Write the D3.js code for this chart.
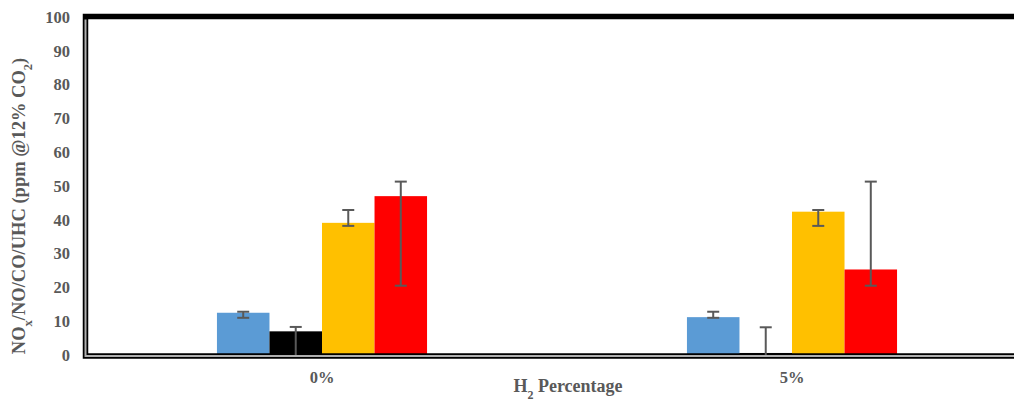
<!DOCTYPE html>
<html>
<head>
<meta charset="utf-8">
<script src="https://cdn.jsdelivr.net/npm/d3@7"></script>
<style>
  html, body { margin: 0; padding: 0; background: #fff; overflow: hidden; }
  svg { display: block; }
  text { font-family: "Liberation Serif", "Times New Roman", serif; font-weight: bold; fill: #595959; }
</style>
</head>
<body>
<svg id="chart" width="1014" height="401"></svg>
<script>
// Emission levels (ppm @12% CO2) for each H2 percentage
const categories = ["0%", "5%"];
const seriesNames = ["NOx", "NO", "CO", "UHC"];
const seriesColors = ["#5B9BD5", "#000000", "#FFC000", "#FF0000"];
const valuesNOx = [12.5, 11.2];
const valuesNO  = [7.0, 0.6];
const valuesCO  = [39.1, 42.4];
const valuesUHC = [47.0, 25.3];
// error bar ends (upper / lower)
const errHighNOx = [12.8, 12.8], errLowNOx = [11.0, 11.0];
const errHighNO  = [8.3, 8.2],   errLowNO  = [0, 0];
const errHighCO  = [42.9, 42.9], errLowCO  = [38.2, 38.2];
const errHighUHC = [51.3, 51.3], errLowUHC = [20.5, 20.5];
const yTicks = [0, 10, 20, 30, 40, 50, 60, 70, 80, 90, 100];

const seriesValues = [valuesNOx, valuesNO, valuesCO, valuesUHC];
const seriesHigh = [errHighNOx, errHighNO, errHighCO, errHighUHC];
const seriesLow = [errLowNOx, errLowNO, errLowCO, errLowUHC];

const svg = d3.select("#chart");
const plotLeft = 87, plotRight = 1027, plotTop = 17, plotBottom = 355;

const y = d3.scaleLinear().domain([0, 100]).range([plotBottom, plotTop]);
const x0 = d3.scaleBand().domain(categories).range([plotLeft, plotRight])
  .paddingInner(0.553).paddingOuter(0.2765);
const x1 = d3.scaleBand().domain(seriesNames).range([0, x0.bandwidth()]);

// bars
const rows = [];
categories.forEach((c, ci) => {
  seriesNames.forEach((s, si) => {
    rows.push({ cat: c, series: s, color: seriesColors[si],
      value: seriesValues[si][ci], hi: seriesHigh[si][ci], lo: seriesLow[si][ci] });
  });
});

svg.append("g").selectAll("rect").data(rows).enter().append("rect")
  .attr("x", d => x0(d.cat) + x1(d.series))
  .attr("y", d => y(d.value))
  .attr("width", x1.bandwidth())
  .attr("height", d => y(0) - y(d.value))
  .attr("fill", d => d.color);

// plot frame: heavy top, double left and bottom
svg.append("path")
  .attr("d", `M${plotRight + 20},${plotTop - 0.5} H${plotLeft - 1.5} V${plotBottom + 1} H${plotRight + 20}`)
  .attr("fill", "none").attr("stroke", "#000").attr("stroke-width", 5.5);
svg.append("path")
  .attr("d", `M${plotLeft - 1.5},${plotTop + 2.5} V${plotBottom + 1} H${plotRight + 20}`)
  .attr("fill", "none").attr("stroke", "#b0b0b0").attr("stroke-width", 2);

// error bars
const eg = svg.append("g").attr("stroke", "#595959").attr("stroke-width", 2).attr("fill", "none");
const cap = 6;
rows.forEach(d => {
  const cx = x0(d.cat) + x1(d.series) + x1.bandwidth() / 2;
  eg.append("line").attr("x1", cx).attr("x2", cx).attr("y1", y(d.hi)).attr("y2", y(d.lo));
  eg.append("line").attr("x1", cx - cap).attr("x2", cx + cap).attr("y1", y(d.hi)).attr("y2", y(d.hi));
  if (d.lo > 0) {
    eg.append("line").attr("x1", cx - cap).attr("x2", cx + cap).attr("y1", y(d.lo)).attr("y2", y(d.lo));
  }
});

// y axis labels
const yAxis = svg.append("g").attr("transform", `translate(${plotLeft - 17},0)`)
  .call(d3.axisLeft(y).tickValues(yTicks).tickSize(0).tickPadding(0));
yAxis.select(".domain").remove();
yAxis.selectAll("text").style("font-size", "16.5px").attr("fill", "#595959")
  .style("font-family", "'Liberation Serif', serif").style("font-weight", "bold");

// x category labels
const xAxis = svg.append("g").attr("transform", `translate(0,${plotBottom + 16})`)
  .call(d3.axisBottom(x0).tickSize(0).tickPadding(0));
xAxis.select(".domain").remove();
xAxis.selectAll("text").style("font-size", "16.5px").attr("fill", "#595959")
  .style("font-family", "'Liberation Serif', serif").style("font-weight", "bold");

// x axis title
const xt = svg.append("text").attr("x", 568).attr("y", 392).attr("text-anchor", "middle")
  .style("font-size", "18px");
xt.append("tspan").text("H");
xt.append("tspan").attr("baseline-shift", "sub").style("font-size", "12px").text("2");
xt.append("tspan").text(" Percentage");

// y axis title
const yt = svg.append("text").attr("transform", "translate(25,206) rotate(-90)")
  .attr("text-anchor", "middle").style("font-size", "18.5px");
yt.append("tspan").text("NO");
yt.append("tspan").attr("baseline-shift", "sub").style("font-size", "12.5px").text("x");
yt.append("tspan").text("/NO/CO/UHC (ppm @12% CO");
yt.append("tspan").attr("baseline-shift", "sub").style("font-size", "12.5px").text("2");
yt.append("tspan").text(")");
</script>
</body>
</html>
